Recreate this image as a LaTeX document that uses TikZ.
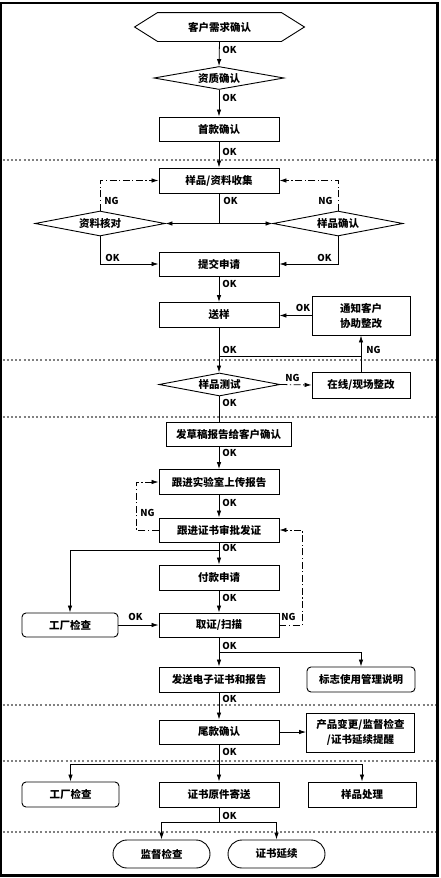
\documentclass[tikz,border=0pt]{standalone}
\usepackage{fontspec}
\setmainfont{Noto Sans CJK SC}
\usetikzlibrary{arrows.meta,shapes.geometric}

\begin{document}
\begin{tikzpicture}[x=1pt,y=-1pt,line width=0.8pt,
    box/.style={draw,line width=0.9pt,inner sep=0pt,minimum width=120pt,minimum height=24pt,align=center,font=\bfseries\fontsize{10.5}{15}\selectfont},
    rbox/.style={box,rounded corners=4pt},
    pill/.style={box,rounded corners=14pt,minimum width=97pt,minimum height=28pt},
    dia/.style={box,diamond,aspect=5,minimum width=130pt,minimum height=25pt},
    arr/.style={-{Latex[length=7pt,width=4.5pt]}},
    ngline/.style={dash pattern=on 7pt off 2.5pt on 1.2pt off 2.5pt},
    sepline/.style={gray,line width=1.2pt,dash pattern=on 2pt off 2.2pt},
    lbl/.style={anchor=west,inner sep=0pt,font=\bfseries\fontsize{9.5}{10}\selectfont}]
  \useasboundingbox (0,0) rectangle (441,878);
  \draw[line width=2.2pt] (1.1,3.3) rectangle (437.5,875.5);
  \foreach \y in {160,360,417,705,761,832}
    \draw[sepline] (2.5,\y) -- (436,\y);

  % nodes
  \node[box,draw=none,minimum width=169pt,minimum height=28pt] (kehu) at (219.5,27) {客户需求确认};
  \draw[line width=0.9pt] (kehu.west) -- ([xshift=23pt]kehu.north west) -- ([xshift=-23pt]kehu.north east)
    -- (kehu.east) -- ([xshift=-23pt]kehu.south east) -- ([xshift=23pt]kehu.south west) -- cycle;
  \node[dia,minimum height=23pt] (zizhi) at (219,78) {资质确认};
  \node[box] (shoukuan) at (219,129) {首款确认};
  \node[box,minimum height=25pt] (shouji) at (219,180.5) {样品/资料收集};
  \node[dia] (hedui) at (100,223.5) {资料核对};
  \node[dia] (queren) at (338,223.5) {样品确认};
  \node[box] (tijiao) at (219,264) {提交申请};
  \node[box,minimum height=25pt] (songyang) at (219,315) {送样};
  \node[box,minimum width=98pt,minimum height=39pt] (tongzhi) at (361,315.5) {通知客户\\协助整改};
  \node[dia,minimum width=121pt,minimum height=23pt] (ceshi) at (219.5,384.5) {样品测试};
  \node[box,minimum width=98pt,minimum height=26pt] (zaixian) at (361,385) {在线/现场整改};
  \node[box,minimum width=125pt] (caogao) at (228.5,434) {发草稿报告给客户确认};
  \node[box,minimum height=25pt] (shiyanshi) at (219,482) {跟进实验室上传报告};
  \node[box] (zhengshu) at (219,530) {跟进证书审批发证};
  \node[box,minimum height=25pt] (fukuan) at (219,577.5) {付款申请};
  \node[box] (quzheng) at (219,625) {取证/扫描};
  \node[rbox,minimum width=96pt] (gongchang) at (70,625) {工厂检查};
  \node[box,minimum height=25pt] (fasong) at (219,679.5) {发送电子证书和报告};
  \node[rbox,minimum width=108pt,minimum height=25pt] (biaozhi) at (361,679.5) {标志使用管理说明};
  \node[box] (weikuan) at (219,732) {尾款确认};
  \node[box,minimum width=108pt,minimum height=39pt] (tixing) at (360.5,732.5) {产品变更/监督检查\\/证书延续提醒};
  \node[rbox,minimum width=97pt,minimum height=25pt] (gongchangb) at (70.5,794.5) {工厂检查};
  \node[box,minimum height=25pt] (yuanjian) at (219,794.5) {证书原件寄送};
  \node[box,minimum width=108pt,minimum height=25pt] (yangpin) at (362,794.5) {样品处理};
  \node[pill] (jiandu) at (161.5,854) {监督检查};
  \node[pill] (yanxu) at (276.5,854) {证书延续};

  % connectors
  \draw[arr] (kehu.south) -- (zizhi.north);
  \draw[arr] (zizhi.south) -- (shoukuan.north);
  \draw[arr] (shoukuan.south) -- (shouji.north);
  \coordinate (f1) at (219,223.5);
  \draw (shouji.south) -- (f1);
  \draw[arr] (f1) -- (hedui.east);
  \draw[arr] (f1) -- (queren.west);
  \draw[arr,ngline] (hedui.north) |- (shouji.west);
  \draw[arr,ngline] (queren.north) |- (shouji.east);
  \draw[arr] (hedui.south) |- (tijiao.west);
  \draw[arr] (queren.south) |- (tijiao.east);
  \draw[arr] (tijiao.south) -- (songyang.north);
  \draw[arr] (tongzhi.west) -- (tongzhi.west -| songyang.east);
  \draw[arr] (songyang.south) -- (songyang.south |- ceshi.north);
  \coordinate (f2) at (219,356);
  \draw (f2) -- (f2 -| zaixian.north);
  \draw[arr] (zaixian.north) -- (tongzhi.south);
  \draw[arr,ngline] (ceshi.east) -- (zaixian.west);
  \draw (ceshi.south -| 219,0) -- (219,0 |- caogao.north);
  \draw[arr] (219,0 |- caogao.south) -- (shiyanshi.north);
  \draw[arr] (shiyanshi.south) -- (zhengshu.north);
  \draw[arr,ngline] (zhengshu.west) -- ++(-22.3,0) |- (shiyanshi.west);
  \draw[arr,ngline] (quzheng.east) -- ++(22.7,0) |- (zhengshu.east);
  \draw[arr] (zhengshu.south) -- (fukuan.north);
  \coordinate (f3) at (219,550.7);
  \draw[arr] (f3) -| (gongchang.north);
  \draw[arr] (fukuan.south) -- (quzheng.north);
  \draw[arr] (gongchang.east) -- (quzheng.west);
  \draw[arr] (quzheng.south) -- (fasong.north);
  \coordinate (f4) at (219,652.3);
  \draw[arr] (f4) -| (biaozhi.north);
  \draw[arr] (fasong.south) -- (weikuan.north);
  \draw[arr] (weikuan.east) -- (weikuan.east -| tixing.west);
  \draw[arr] (weikuan.south) -- (yuanjian.north);
  \coordinate (f5) at (219,764);
  \draw[arr] (f5) -| (gongchangb.north);
  \draw[arr] (f5) -| (yangpin.north);
  \coordinate (f6) at (219,822.7);
  \draw (yuanjian.south) -- (f6);
  \draw[arr] (f6) -| (jiandu.north);
  \draw[arr] (f6) -| (yanxu.north);

  % labels
  \node[lbl] (ok1) at (222,50) {OK};
  \node[lbl] (ok2) at (222,98) {OK};
  \node[lbl] (ok3) at (222,152) {OK};
  \node[lbl] (ok4) at (223,200.5) {OK};
  \node[lbl] (ng1) at (104,201) {NG};
  \node[lbl] (ng2) at (318,201) {NG};
  \node[lbl] (ok5) at (105,257.5) {OK};
  \node[lbl] (ok6) at (317,257.5) {OK};
  \node[lbl] (ok7) at (222,284) {OK};
  \node[lbl] (ok8) at (295.5,308) {OK};
  \node[lbl] (ok9) at (222,350) {OK};
  \node[lbl] (ng3) at (366,350) {NG};
  \node[lbl] (ng4) at (285,378) {NG};
  \node[lbl] (ok10) at (222,402.5) {OK};
  \node[lbl] (ok11) at (222,453) {OK};
  \node[lbl] (ok12) at (222,502.5) {OK};
  \node[lbl] (ng5) at (140,513) {NG};
  \node[lbl] (ok13) at (222,548) {OK};
  \node[lbl] (ok14) at (222,597.5) {OK};
  \node[lbl] (ok15) at (128,617) {OK};
  \node[lbl] (ng6) at (281,617) {NG};
  \node[lbl] (ok16) at (222,645.5) {OK};
  \node[lbl] (ok17) at (222,699) {OK};
  \node[lbl] (ok18) at (222,752) {OK};
  \node[lbl] (ok19) at (222,816) {OK};
\end{tikzpicture}
\end{document}
